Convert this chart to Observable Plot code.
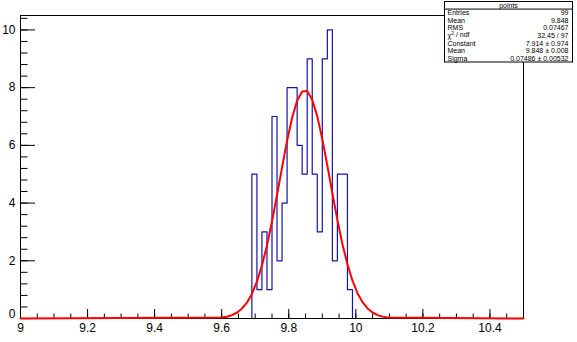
<!DOCTYPE html>
<html>
<head>
<meta charset="utf-8">
<script src="https://cdn.jsdelivr.net/npm/d3@7"></script>
<script src="https://cdn.jsdelivr.net/npm/@observablehq/plot@0.6"></script>
<style>
  html, body { margin: 0; padding: 0; background: #fff; }
  #chart { position: relative; width: 577px; height: 342px; overflow: hidden; }
  svg { font-family: "Liberation Sans", Arial, Helvetica, sans-serif; }
</style>
</head>
<body>
<div id="chart"></div>
<script>
// ---- Data ----
const histName = "points";
// Lower edges of the filled bins (bin width 0.015) and their counts
const binLow = [9.690, 9.705, 9.720, 9.735, 9.750, 9.765, 9.780, 9.795, 9.810, 9.825,
                9.840, 9.855, 9.870, 9.885, 9.900, 9.915, 9.930, 9.945, 9.960, 9.975];
const counts = [5, 1, 3, 1, 7, 2, 4, 8, 8, 6,
                5, 9, 5, 3, 9, 10, 2, 5, 5, 1];
const binWidth = 0.015;
const xRange = [9, 10.5];
const yRange = [0, 10.5];

// Gaussian fit curve, sampled as drawn
const fitX = [9.000, 9.600, 9.615, 9.630, 9.645, 9.660, 9.675, 9.690, 9.705, 9.720, 9.735,
              9.750, 9.765, 9.780, 9.795, 9.810, 9.825, 9.840, 9.855, 9.870, 9.885,
              9.900, 9.915, 9.930, 9.945, 9.960, 9.975, 9.990, 10.005, 10.020, 10.035,
              10.050, 10.065, 10.080, 10.095, 10.500];
const fitY = [0.000, 0.033, 0.062, 0.114, 0.200, 0.338, 0.548, 0.853, 1.277, 1.834, 2.533,
              3.359, 4.280, 5.239, 6.160, 6.957, 7.549, 7.869, 7.880, 7.580, 7.004,
              6.217, 5.302, 4.344, 3.418, 2.584, 1.877, 1.309, 0.877, 0.565, 0.349,
              0.208, 0.118, 0.065, 0.034, 0.000];

// Axis ticks
const xMajorTicks = [9, 9.2, 9.4, 9.6, 9.8, 10, 10.2, 10.4];
const xMinorTicks = d3.range(0, 31).map(i => +(9 + i * 0.05).toFixed(2));
const yMajorTicks = [0, 2, 4, 6, 8, 10];
const yMinorTicks = d3.range(0, 27).map(i => +(i * 0.4).toFixed(1));

// Stats box
const statLabels = ["Entries", "Mean", "RMS", "χ2 / ndf", "Constant", "Mean", "Sigma"];
const statValues = ["99", "9.848", "0.07467", "32.45 / 97", "7.914 ± 0.974", "9.848 ± 0.008", "0.07486 ± 0.00532"];

// ---- Build tables ----
const histPts = [{x: xRange[0], y: 0}];
binLow.forEach((b, i) => histPts.push({x: b, y: counts[i]}));
histPts.push({x: binLow[binLow.length - 1] + binWidth, y: 0});
histPts.push({x: xRange[1], y: 0});
const fit = fitX.map((x, i) => ({x, y: fitY[i]}));

const W = 577, H = 342, mL = 20, mR = 54, mT = 15, mB = 24;
const innerW = W - mL - mR, innerH = H - mT - mB;

const plot = Plot.plot({
  width: W,
  height: H,
  marginLeft: mL,
  marginRight: mR,
  marginTop: mT,
  marginBottom: mB,
  style: {fontFamily: '"Liberation Sans", Arial, Helvetica, sans-serif', background: "white", overflow: "visible"},
  x: {domain: xRange},
  y: {domain: yRange},
  marks: [
    Plot.line(histPts, {x: "x", y: "y", curve: "step-after", stroke: "#1515a8", strokeWidth: 1.2}),
    Plot.frame({stroke: "black", strokeWidth: 1}),
    // ticks pointing into the frame
    Plot.tickX(xMinorTicks, {x: d => d, insetTop: innerH - 4.5, stroke: "black", strokeWidth: 1}),
    Plot.tickX(xMajorTicks, {x: d => d, insetTop: innerH - 9, stroke: "black", strokeWidth: 1}),
    Plot.tickY(yMinorTicks, {y: d => d, insetRight: innerW - 7.5, stroke: "black", strokeWidth: 1}),
    Plot.tickY(yMajorTicks, {y: d => d, insetRight: innerW - 15, stroke: "black", strokeWidth: 1}),
    // labels
    Plot.axisX(xMajorTicks, {tickSize: 0, tickPadding: 5, fontSize: 12, label: null, fill: "black", tickFormat: d => String(d)}),
    Plot.axisY(yMajorTicks.filter(d => d !== 0), {tickSize: 0, tickPadding: 5, fontSize: 12, label: null, fill: "black"}),
    Plot.text([0], {x: xRange[0], y: d => d, text: d => String(d), textAnchor: "end", dx: -5, dy: -4, fontSize: 12, fill: "black"}),
    Plot.line(fit, {x: "x", y: "y", stroke: "#ff0000", strokeWidth: 2})
  ]
});
document.getElementById("chart").appendChild(plot);

// Stats box drawn into the same SVG
const svg = d3.select(plot);
const bx = 444.5, by = 1.5, bw = 128, bh = 60.5;
const g = svg.append("g").attr("font-size", 7).attr("fill", "black").attr("text-anchor", "start");
g.append("rect").attr("x", bx).attr("y", by).attr("width", bw).attr("height", bh)
  .attr("fill", "white").attr("stroke", "black").attr("stroke-width", 1);
const rowH = bh / 8;
g.append("line").attr("x1", bx).attr("x2", bx + bw).attr("y1", by + rowH).attr("y2", by + rowH)
  .attr("stroke", "black").attr("stroke-width", 1);
g.append("text").attr("x", bx + bw / 2).attr("y", by + rowH / 2).attr("dy", "0.35em")
  .attr("text-anchor", "middle").text(histName);
statLabels.forEach((lab, i) => {
  const cy = by + rowH * (i + 1.5);
  const t = g.append("text").attr("x", bx + 3).attr("y", cy).attr("dy", "0.35em").attr("text-anchor", "start");
  if (lab.startsWith("χ2")) {
    t.append("tspan").text("χ");
    t.append("tspan").attr("font-size", 5).attr("dy", "-0.5em").text("2");
    t.append("tspan").attr("dy", "0.25em").text(" / ndf");
  } else {
    t.text(lab);
  }
  g.append("text").attr("x", bx + bw - 4).attr("y", cy).attr("dy", "0.35em")
    .attr("text-anchor", "end").text(statValues[i]);
});
</script>
</body>
</html>
